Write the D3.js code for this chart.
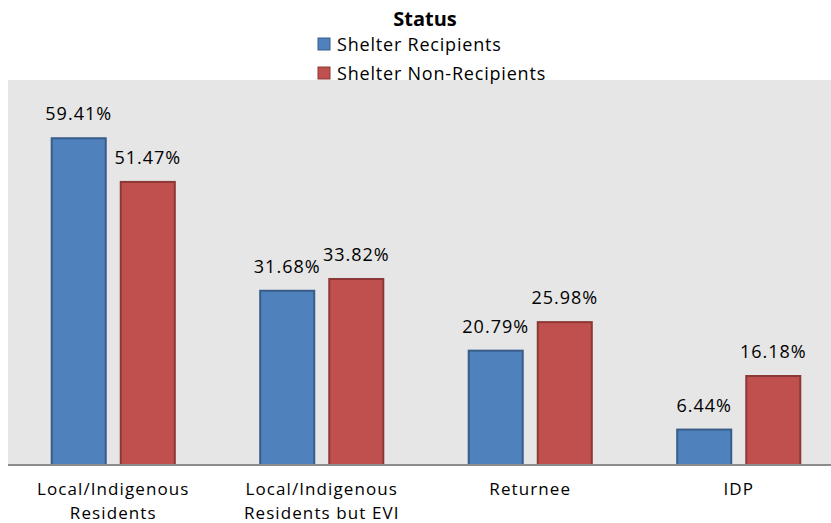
<!DOCTYPE html>
<html>
<head>
<meta charset="utf-8">
<script src="https://cdn.jsdelivr.net/npm/d3@7"></script>
<style>
  html, body { margin: 0; padding: 0; background: #ffffff; }
  svg { display: block; }
  text { font-family: "Open Sans", "DejaVu Sans", sans-serif; fill: #000; }
</style>
</head>
<body>
<svg id="chart" width="831" height="523"></svg>
<script>
const categories = [["Local/Indigenous", "Residents"], ["Local/Indigenous", "Residents but EVI"], ["Returnee"], ["IDP"]];
const categoryKeys = ["Local/Indigenous Residents", "Local/Indigenous Residents but EVI", "Returnee", "IDP"];
const seriesNames = ["Shelter Recipients", "Shelter Non-Recipients"];
const recipients = [59.41, 31.68, 20.79, 6.44];
const nonRecipients = [51.47, 33.82, 25.98, 16.18];
const seriesValues = [recipients, nonRecipients];
const fills = ["#4f81bd", "#c0504d"];
const strokes = ["#385d8a", "#8c3836"];

const W = 831, H = 523;
const plot = { left: 8, top: 80, right: 843, bottom: 465 };
const svg = d3.select("#chart");

svg.append("rect")
  .attr("x", plot.left).attr("y", plot.top)
  .attr("width", W - plot.left).attr("height", plot.bottom - plot.top)
  .attr("fill", "#e6e6e6");

const x0 = d3.scaleBand().domain(categoryKeys).range([9, 843]).paddingInner(0.4).paddingOuter(0.2);
const x1 = d3.scaleBand().domain(seriesNames).range([0, x0.bandwidth()]).paddingInner(13 / 69).paddingOuter(0);
const y = d3.scaleLinear().domain([0, 70]).range([plot.bottom, plot.top]);

const data = [];
categoryKeys.forEach((c, i) => {
  seriesNames.forEach((s, j) => {
    data.push({ cat: c, ser: s, j: j, v: seriesValues[j][i] });
  });
});

const g = svg.append("g");
g.selectAll("rect.bar").data(data).join("rect")
  .attr("class", "bar")
  .attr("x", d => x0(d.cat) + x1(d.ser) + 1)
  .attr("y", d => y(d.v))
  .attr("width", x1.bandwidth() - 2)
  .attr("height", d => y(0) - y(d.v))
  .attr("fill", d => fills[d.j])
  .attr("stroke", d => strokes[d.j])
  .attr("stroke-width", 2);

g.selectAll("text.val").data(data).join("text")
  .attr("class", "val")
  .attr("x", d => x0(d.cat) + x1(d.ser) + x1.bandwidth() / 2)
  .attr("y", d => y(d.v) - 18)
  .attr("text-anchor", "middle")
  .style("font-size", "18px")
  .style("letter-spacing", "1px")
  .text(d => d.v.toFixed(2) + "%");

// x axis line
const xAxis = d3.axisBottom(x0).tickSize(0).tickFormat("");
const ax = svg.append("g").attr("transform", `translate(0,${plot.bottom})`).call(xAxis);
ax.select(".domain").attr("d", `M${plot.left},0H${W}`).attr("stroke", "#8c8c8c").attr("stroke-width", 2);

// category labels
categoryKeys.forEach((c, i) => {
  const cx = x0(c) + x0.bandwidth() / 2;
  categories[i].forEach((line, k) => {
    svg.append("text")
      .attr("x", cx).attr("y", 495 + k * 23.5)
      .attr("text-anchor", "middle")
      .style("font-size", "17px")
      .style("letter-spacing", "1.1px")
      .text(line);
  });
});

// title
svg.append("text").attr("x", 425).attr("y", 26).attr("text-anchor", "middle")
  .style("font-size", "20px").style("font-weight", "bold").text("Status");

// legend
const leg = svg.append("g");
seriesNames.forEach((s, j) => {
  const yy = 38 + j * 29;
  leg.append("rect").attr("x", 318).attr("y", yy).attr("width", 12).attr("height", 12)
    .attr("fill", fills[j]).attr("stroke", strokes[j]).attr("stroke-width", 1);
  leg.append("text").attr("x", 337).attr("y", yy + 13)
    .style("font-size", "18px").style("letter-spacing", "0.8px").text(s);
});
</script>
</body>
</html>
